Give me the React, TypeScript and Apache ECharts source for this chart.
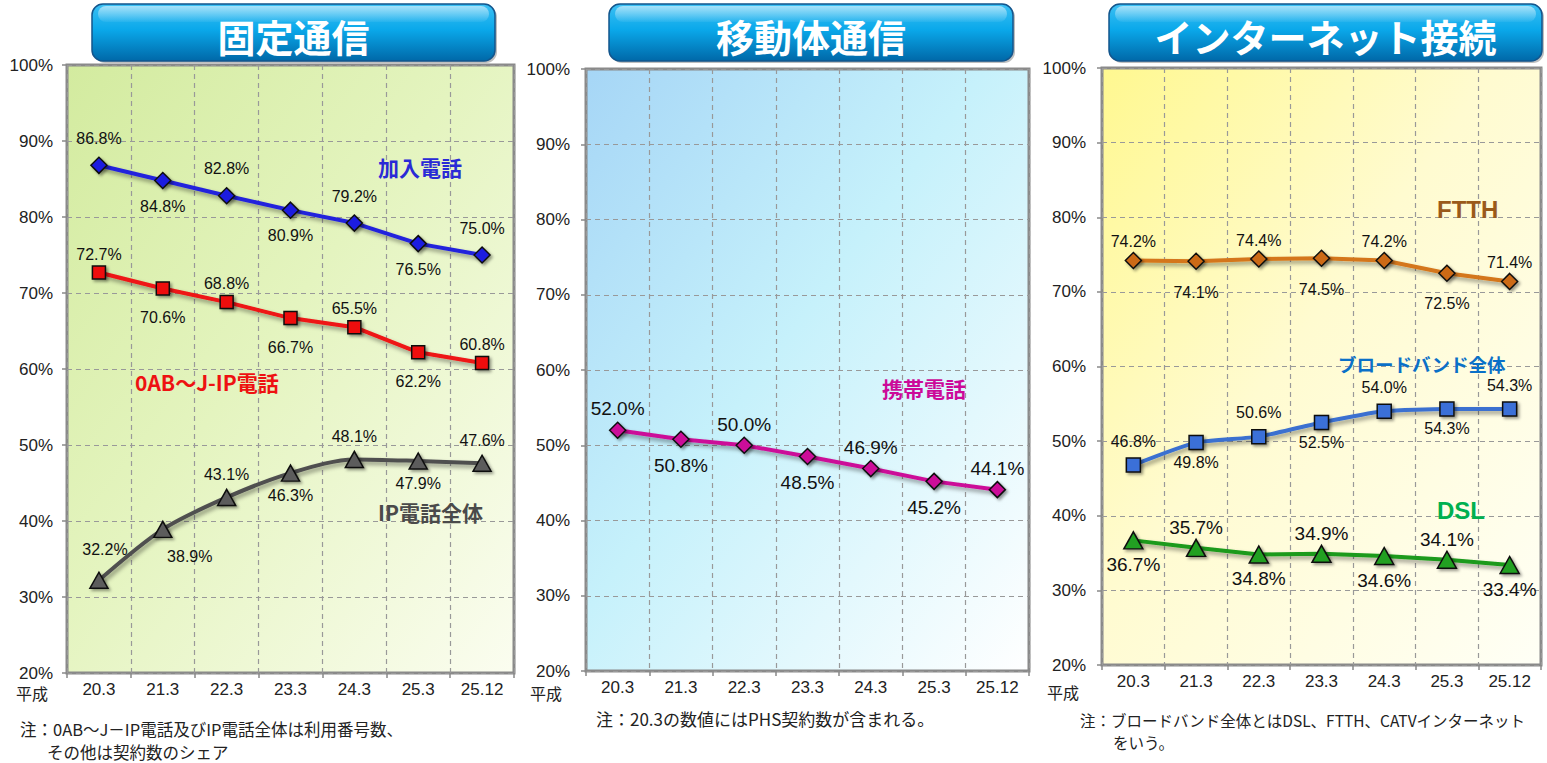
import React, { useEffect, useRef } from "react";
import * as echarts from "echarts";

const categories = ["20.3", "21.3", "22.3", "23.3", "24.3", "25.3", "25.12"];
const kanyuDenwa = [86.8, 84.8, 82.8, 80.9, 79.2, 76.5, 75.0];
const oabjIpDenwa = [72.7, 70.6, 68.8, 66.7, 65.5, 62.2, 60.8];
const ipDenwaZentai = [32.2, 38.9, 43.1, 46.3, 48.1, 47.9, 47.6];
const keitaiDenwa = [52.0, 50.8, 50.0, 48.5, 46.9, 45.2, 44.1];
const ftth = [74.2, 74.1, 74.4, 74.5, 74.2, 72.5, 71.4];
const broadband = [46.8, 49.8, 50.6, 52.5, 54.0, 54.3, 54.3];
const dsl = [36.7, 35.7, 34.8, 34.9, 34.6, 34.1, 33.4];
const panelTitles = ["固定通信", "移動体通信", "インターネット接続"];
const yMin = 20;
const yMax = 100;
const yStep = 10;

const JP = '"Noto Sans CJK JP", "Noto Sans", sans-serif';
const AR = 'Arial, "Liberation Sans", sans-serif';

type SOpt = {
  name: string;
  data: number[];
  idx: number;
  line: string;
  marker: string;
  symbol: string;
  size: number | number[];
  font: number;
  firstTop: boolean;
  topD: number;
  botD: number;
  smooth?: number | boolean;
  offsets?: Record<number, number[]>;
};

function mk(o: SOpt) {
  return {
    type: "line",
    name: o.name,
    xAxisIndex: o.idx,
    yAxisIndex: o.idx,
    smooth: o.smooth ?? false,
    symbol: o.symbol,
    symbolSize: o.size,
    z: 5,
    lineStyle: {
      color: o.line,
      width: 4,
      shadowColor: "rgba(0,0,0,0.4)",
      shadowBlur: 4,
      shadowOffsetX: 2,
      shadowOffsetY: 3,
    },
    itemStyle: {
      color: o.marker,
      borderColor: "#111",
      borderWidth: 1.5,
      shadowColor: "rgba(0,0,0,0.4)",
      shadowBlur: 3,
      shadowOffsetX: 2,
      shadowOffsetY: 2,
    },
    label: {
      show: true,
      color: "#111",
      fontSize: o.font,
      fontFamily: AR,
      formatter: (p: any) => Number(p.value).toFixed(1) + "%",
    },
    data: o.data.map((v, i) => {
      const top = o.firstTop ? i % 2 === 0 : i % 2 === 1;
      const lab: any = { position: top ? "top" : "bottom", distance: top ? o.topD : o.botD };
      if (o.offsets && o.offsets[i]) lab.offset = o.offsets[i];
      return { value: v, label: lab };
    }),
  };
}

const grids = [
  { left: 67, top: 65, width: 447, height: 608, labelMargin: 14, bg: ["#d3eb9f", "#e4f4bf", "#fbfdf0"] },
  { left: 586, top: 69, width: 443, height: 602, labelMargin: 16, bg: ["#a6d6f6", "#c6f1fb", "#ffffff"] },
  { left: 1102, top: 68, width: 439, height: 597, labelMargin: 16, bg: ["#fff890", "#fffbd0", "#fffff6"] },
];

const titleBoxes = [
  { x: 92, w: 403 },
  { x: 609, w: 404 },
  { x: 1109, w: 433 },
];

function titleBox(i: number) {
  const b = titleBoxes[i];
  return {
    type: "group",
    children: [
      {
        type: "rect",
        shape: { x: b.x + 2, y: 6, width: b.w, height: 57, r: 11 },
        style: { fill: "rgba(0,0,0,0.25)" },
      },
      {
        type: "rect",
        shape: { x: b.x, y: 4, width: b.w, height: 57, r: 11 },
        style: {
          fill: new echarts.graphic.LinearGradient(0, 0, 0, 1, [
            { offset: 0, color: "#3cc0f4" },
            { offset: 0.45, color: "#0aa8ea" },
            { offset: 1, color: "#0068a8" },
          ]),
          stroke: "#13558c",
          lineWidth: 1.5,
        },
      },
      {
        type: "rect",
        shape: { x: b.x + 6, y: 6, width: b.w - 12, height: 16, r: 8 },
        style: {
          fill: new echarts.graphic.LinearGradient(0, 0, 0, 1, [
            { offset: 0, color: "rgba(255,255,255,0.55)" },
            { offset: 1, color: "rgba(255,255,255,0.05)" },
          ]),
        },
      },
      {
        type: "text",
        x: b.x + b.w / 2,
        y: 35,
        style: {
          text: panelTitles[i],
          fill: "#ffffff",
          font: `bold 38px ${JP}`,
          align: "center",
          verticalAlign: "middle",
        },
      },
    ],
  };
}

function txt(text: string, x: number, y: number, size: number, color: string, bold = false, family = JP) {
  return {
    type: "text",
    x,
    y,
    z: 10,
    style: {
      text,
      fill: color,
      font: `${bold ? "bold " : ""}${size}px ${family}`,
      align: "left",
      verticalAlign: "middle",
    },
  };
}

export default function App() {
  const ref = useRef<HTMLDivElement>(null);
  useEffect(() => {
    if (!ref.current) return;
    const chart = echarts.init(ref.current, null, { renderer: "svg" });
    const option: any = {
      animation: false,
      backgroundColor: "#ffffff",
      grid: grids.map((g) => ({
        left: g.left,
        top: g.top,
        width: g.width,
        height: g.height,
        show: true,
        borderColor: "#8a8a8a",
        borderWidth: 3,
        backgroundColor: new echarts.graphic.LinearGradient(0, 0, 1, 1, [
          { offset: 0, color: g.bg[0] },
          { offset: 0.45, color: g.bg[1] },
          { offset: 1, color: g.bg[2] },
        ]),
      })),
      xAxis: grids.map((g, i) => ({
        type: "category",
        gridIndex: i,
        data: categories,
        boundaryGap: true,
        axisLine: { show: false },
        axisTick: { show: true, length: 5, lineStyle: { color: "#888", width: 1.5 } },
        axisLabel: { color: "#222", fontSize: 17, fontFamily: AR, margin: 8 },
        splitLine: { show: true, lineStyle: { color: "#999", type: [5, 4], width: 1.2 } },
      })),
      yAxis: grids.map((g, i) => ({
        type: "value",
        gridIndex: i,
        min: yMin,
        max: yMax,
        interval: yStep,
        axisLine: { show: false },
        axisTick: { show: true, length: 5, lineStyle: { color: "#888", width: 1.5 } },
        axisLabel: { color: "#222", fontSize: 17, fontFamily: AR, margin: g.labelMargin, formatter: "{value}%" },
        splitLine: { show: true, lineStyle: { color: "#999", type: [5, 4], width: 1.2 } },
      })),
      series: [
        mk({ name: "加入電話", data: kanyuDenwa, idx: 0, line: "#2323dc", marker: "#1c1ce0", symbol: "diamond", size: 16, font: 16, firstTop: true, topD: 10, botD: 9 }),
        mk({ name: "0AB～J-IP電話", data: oabjIpDenwa, idx: 0, line: "#ee1414", marker: "#ee1111", symbol: "rect", size: 13, font: 16, firstTop: true, topD: 3, botD: 14 }),
        mk({ name: "IP電話全体", data: ipDenwaZentai, idx: 0, line: "#505050", marker: "#5c5c5c", symbol: "triangle", size: [18, 16], font: 16, firstTop: true, topD: 6, botD: 6, smooth: 0.3, offsets: { 0: [6, -8], 1: [27, 4] } }),
        mk({ name: "携帯電話", data: keitaiDenwa, idx: 1, line: "#cc0f98", marker: "#cc0a99", symbol: "diamond", size: 16, font: 19, firstTop: true, topD: 3, botD: 8 }),
        mk({ name: "FTTH", data: ftth, idx: 2, line: "#d4761a", marker: "#cc6a14", symbol: "diamond", size: 16, font: 16, firstTop: true, topD: 2, botD: 14 }),
        mk({ name: "ブロードバンド全体", data: broadband, idx: 2, line: "#3a70d0", marker: "#3a6fd8", symbol: "rect", size: 14, font: 16, firstTop: true, topD: 8, botD: 4, smooth: 0.2 }),
        mk({ name: "DSL", data: dsl, idx: 2, line: "#1a9a1a", marker: "#20a020", symbol: "triangle", size: [19, 17], font: 19, firstTop: false, topD: 1.5, botD: 5.5 }),
      ],
      graphic: [
        titleBox(0),
        titleBox(1),
        titleBox(2),
        txt("加入電話", 378, 167, 21, "#2a2ad6", true),
        txt("0AB～J-IP電話", 135, 382, 21, "#ee1111", true),
        txt("IP電話全体", 378, 512, 21, "#4a4a4a", true),
        txt("携帯電話", 882, 388, 21, "#cc0a99", true),
        txt("FTTH", 1437, 209, 24, "#9a5a1a", true, AR),
        txt("ブロードバンド全体", 1338, 364, 18.5, "#0a70c8", true),
        txt("DSL", 1437, 510, 24, "#00b050", true, AR),
        txt("平成", 16, 693, 16, "#222"),
        txt("平成", 530, 693, 16, "#222"),
        txt("平成", 1047, 692, 16, "#222"),
        txt("注：0AB～J－IP電話及びIP電話全体は利用番号数、", 20, 729, 16.5, "#222"),
        txt("その他は契約数のシェア", 47, 752, 16.5, "#222"),
        txt("注：20.3の数値にはPHS契約数が含まれる。", 596, 718, 17, "#222"),
        txt("注：ブロードバンド全体とはDSL、FTTH、CATVインターネット", 1080, 720, 15.5, "#222"),
        txt("をいう。", 1113, 742, 15.5, "#222"),
      ],
    };
    chart.setOption(option);
    return () => chart.dispose();
  }, []);
  return (
    <div
      ref={ref}
      style={{ position: "absolute", left: 0, top: 0, width: 1547, height: 763 }}
    />
  );
}
